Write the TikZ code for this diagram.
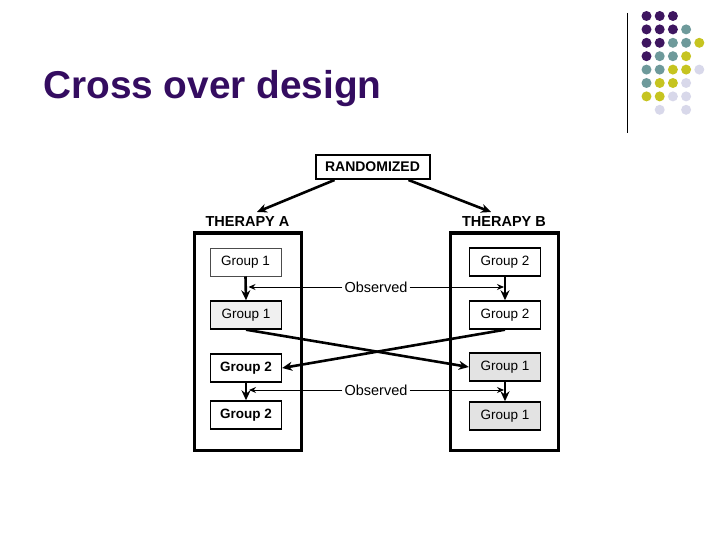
\documentclass[tikz,border=0pt]{standalone}
\usepackage{fontspec}
\setmainfont{Liberation Sans}
\usetikzlibrary{arrows.meta,calc}
\definecolor{titlepurple}{RGB}{52,12,96}
\definecolor{dpurple}{RGB}{62,22,96}
\definecolor{dteal}{RGB}{110,154,155}
\definecolor{dyellow}{RGB}{198,196,32}
\definecolor{dlav}{RGB}{216,216,234}
\tikzset{
  grp/.style={draw=black, line width=1.4pt, minimum width=71pt, minimum height=28pt, inner sep=0pt, font=\fontsize{13.5}{15}\selectfont},
  grpA/.style={grp, fill=white},
  grpS/.style={grp, fill=gray!22},
  grpL/.style={grp, fill=gray!12},
  bigbox/.style={draw=black, line width=3pt},
  thick arrow/.style={line width=2.6pt, -{Stealth[length=10pt,width=9pt]}},
  obs/.style={line width=1pt, -{Stealth[length=7pt,width=6pt]}},
  lbl/.style={font=\bfseries\fontsize{14.5}{16}\selectfont, inner sep=0pt},
  obslbl/.style={font=\fontsize{14.5}{16}\selectfont, inner sep=2pt, fill=white},
  dot/.style={circle, inner sep=0pt, minimum size=10pt}
}
\begin{document}
\begin{tikzpicture}[x=1pt,y=-1pt]
\useasboundingbox (0,0) rectangle (720,540);
% title
\node[anchor=base west, inner sep=0pt, text=titlepurple, font={\bfseries\fontsize{38.8}{42}\selectfont}] (title) at (43,98.5) {Cross over design};
% decoration
\draw[line width=1pt] (627,13) -- (627,133);
\foreach \r/\cols in {0/{dpurple,dpurple,dpurple},
                      1/{dpurple,dpurple,dpurple,dteal},
                      2/{dpurple,dpurple,dteal,dteal,dyellow},
                      3/{dpurple,dteal,dteal,dyellow},
                      4/{dteal,dteal,dyellow,dyellow,dlav},
                      5/{dteal,dyellow,dyellow,dlav},
                      6/{dyellow,dyellow,dlav,dlav}} {
  \foreach \c [count=\i from 0] in \cols {
    \node[dot, fill=\c] (d\r\i) at ({646.5+\i*13.2},{16+\r*13.4}) {};
  }
}
\node[dot, fill=dlav] (d71) at ({646.5+13.2},{16+7*13.4}) {};
\node[dot, fill=dlav] (d73) at ({646.5+3*13.2},{16+7*13.4}) {};
% randomized
\node[draw=black, line width=2pt, minimum width=114pt, minimum height=24pt, inner sep=0pt, font=\bfseries\fontsize{14}{16}\selectfont] (rand) at (372.5,167) {RANDOMIZED};
\node[lbl] (thA) at (247.5,222) {THERAPY A};
\node[lbl] (thB) at (504,222) {THERAPY B};
\coordinate (ra) at (257,212);
\coordinate (rb) at (491,212);
\draw[thick arrow] ([xshift=20pt]rand.south west) -- (ra);
\draw[thick arrow] ([xshift=-22pt]rand.south east) -- (rb);
% big boxes
\draw[bigbox] (194,233) rectangle (301,450);
\draw[bigbox] (450,233) rectangle (558,450);
% groups
\node[grpA, draw=black!70, line width=1pt] (a1) at (245.5,262) {Group 1};
\node[grpL] (a2) at (246,315) {Group 1};
\node[grpA, font=\bfseries\fontsize{13.5}{15}\selectfont] (a3) at (246,368) {Group 2};
\node[grpA, font=\bfseries\fontsize{13.5}{15}\selectfont] (a4) at (246,415) {Group 2};
\node[grpA] (b1) at (505,262) {Group 2};
\node[grpA] (b2) at (505,315) {Group 2};
\node[grpS] (b3) at (505,367) {Group 1};
\node[grpS] (b4) at (505,416) {Group 1};
% vertical arrows
\draw[thick arrow] (a1.south) -- (a2.north);
\draw[thick arrow] (b1.south) -- (b2.north);
\draw[thick arrow] (a3.south) -- (a4.north);
\draw[thick arrow] (b3.south) -- (b4.north);
% observed
\node[obslbl] (o1) at (376,287) {Observed};
\node[obslbl] (o2) at (376,390) {Observed};
\draw[obs] (o1.west) -- ($(o1.west -| a1.south)+(3,0)$);
\draw[obs] (o1.east) -- ($(o1.east -| b1.south)+(-1,0)$);
\draw[obs] (o2.west) -- ($(o2.west -| a3.south)+(3,0)$);
\draw[obs] (o2.east) -- ($(o2.east -| b3.south)+(-1,0)$);
% cross arrows
\draw[thick arrow] (a2.south) -- (b3.west);
\draw[thick arrow] (b2.south) -- (a3.east);
\end{tikzpicture}
\end{document}
